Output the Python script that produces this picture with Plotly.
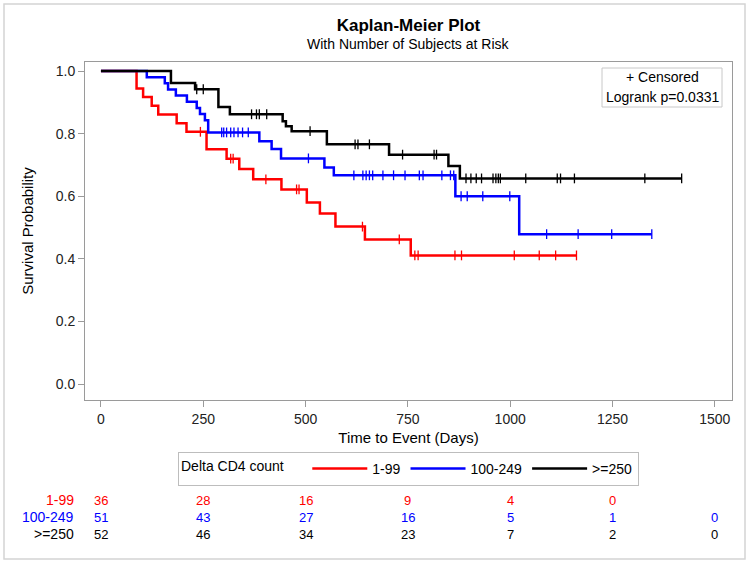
import numpy as np
import plotly.graph_objects as go

# ---------------- data ----------------
groups = ["1-99", "100-249", ">=250"]
colors = ["#FF0000", "#0000FF", "#000000"]

red_times = [87, 103, 124, 140, 185, 209, 258, 307, 338, 372, 441, 503, 535, 573, 645, 757]
red_surv = [0.944, 0.917, 0.889, 0.861, 0.833, 0.806, 0.750, 0.720, 0.687, 0.654,
            0.622, 0.580, 0.545, 0.503, 0.462, 0.411]
red_cens = [243, 317, 323, 403, 478, 484, 639, 729, 767, 775, 865, 881, 1010, 1071, 1111, 1162]

blue_times = [112, 156, 164, 183, 210, 234, 242, 254, 262, 387, 417, 440, 546, 569, 866, 1022]
blue_surv = [0.980, 0.961, 0.941, 0.922, 0.902, 0.882, 0.863, 0.843, 0.804, 0.776,
             0.751, 0.721, 0.692, 0.667, 0.600, 0.479]
blue_cens = [295, 300, 307, 317, 325, 335, 346, 360, 507, 618, 640, 648, 656, 664, 689,
             715, 743, 778, 787, 833, 854, 862, 880, 895, 933, 999, 1089, 1166, 1248, 1346]

black_times = [171, 230, 287, 315, 444, 452, 466, 552, 704, 849, 877]
black_surv = [0.962, 0.942, 0.885, 0.862, 0.840, 0.824, 0.808, 0.766, 0.733, 0.697, 0.657]
black_cens = [234, 250, 368, 380, 387, 405, 511, 621, 628, 656, 737, 814, 820, 892, 904,
              917, 930, 958, 965, 971, 976, 1038, 1115, 1123, 1157, 1329, 1419]

risk_days = [0, 250, 500, 750, 1000, 1250, 1500]
risk_red = [36, 28, 16, 9, 4, 0]
risk_blue = [51, 43, 27, 16, 5, 1, 0]
risk_black = [52, 46, 34, 23, 7, 2, 0]

x_ticks = [0, 250, 500, 750, 1000, 1250, 1500]
y_ticks = [0.0, 0.2, 0.4, 0.6, 0.8, 1.0]

# ---------------- figure ----------------
FONT = "Liberation Sans, Arial, sans-serif"
W, H = 750, 564
L, R, T, B = 85, 18, 62, 164
PW, PH = W - L - R, H - T - B


def px_x(p):
    return (p - L) / PW


def px_y(p):
    return (H - B - p) / PH


fig = go.Figure()

series = [
    (red_times, red_surv, red_cens),
    (blue_times, blue_surv, blue_cens),
    (black_times, black_surv, black_cens),
]

for (times, surv, cens), name, col in zip(series, groups, colors):
    end = max(max(cens), max(times))
    xs = [0] + list(times) + [end]
    ys = [1.0] + list(surv) + [surv[-1]]
    fig.add_trace(go.Scatter(x=xs, y=ys, mode="lines", line=dict(color=col, width=2.5, shape="hv"),
                             name=name, showlegend=True, hoverinfo="skip"))
    levels = np.array([1.0] + list(surv))
    idx = np.searchsorted(np.array(times), np.array(cens), side="right")
    fig.add_trace(go.Scatter(x=cens, y=levels[idx], mode="markers",
                             marker=dict(symbol="line-ns-open", size=7, color=col,
                                         line=dict(width=1.3, color=col)),
                             showlegend=False, hoverinfo="skip"))

annotations = []
# subtitle
annotations.append(dict(text="With Number of Subjects at Risk", xref="paper", yref="paper",
                        x=0.5, y=px_y(44), xanchor="center", yanchor="middle", showarrow=False,
                        font=dict(size=14, color="#000000", family=FONT)))
# censored / logrank box text
annotations.append(dict(text="+ Censored", xref="paper", yref="paper", x=px_x(662), y=px_y(77),
                        xanchor="center", yanchor="middle", showarrow=False,
                        font=dict(size=14, color="#000000", family=FONT)))
annotations.append(dict(text="Logrank p=0.0331", xref="paper", yref="paper", x=px_x(662), y=px_y(97),
                        xanchor="center", yanchor="middle", showarrow=False,
                        font=dict(size=14, color="#000000", family=FONT)))

# at-risk table
row_y = [500, 517, 534]
for counts, name, col, ry in zip([risk_red, risk_blue, risk_black], groups, colors, row_y):
    annotations.append(dict(text=name, xref="paper", yref="paper", x=px_x(76), y=px_y(ry),
                            xanchor="right", yanchor="middle", showarrow=False,
                            font=dict(size=14, color=col, family=FONT)))
    for d, c in zip(risk_days, counts):
        annotations.append(dict(text=str(c), xref="x", yref="paper", x=d, y=px_y(ry),
                                xanchor="center", yanchor="middle", showarrow=False,
                                font=dict(size=13, color=col, family=FONT)))

shapes = [
    dict(type="rect", xref="paper", yref="paper", x0=px_x(602), x1=px_x(722), y0=px_y(107), y1=px_y(68),
         line=dict(color="#c8c8c8", width=1), fillcolor="rgba(0,0,0,0)"),
    dict(type="rect", xref="paper", yref="paper", x0=px_x(4), x1=px_x(745), y0=px_y(559), y1=px_y(4),
         line=dict(color="#d4d4d4", width=1.5), fillcolor="rgba(0,0,0,0)", layer="below"),
]

fig.update_layout(
    width=W, height=H,
    margin=dict(l=L, r=R, t=T, b=B, autoexpand=False),
    paper_bgcolor="white", plot_bgcolor="white",
    font=dict(family=FONT, size=14, color="#000000"),
    title=dict(text="<b>Kaplan-Meier Plot</b>", x=0.5, xref="paper", xanchor="center",
               y=1 - 25 / H, yref="container", yanchor="middle",
               font=dict(size=17, family=FONT, color="#000000")),
    xaxis=dict(range=[-39, 1542], tickvals=x_ticks, ticktext=[str(v) for v in x_ticks],
               showgrid=False, zeroline=False, showline=True, mirror=True, linecolor="#9a9a9a",
               linewidth=1, ticks="outside", ticklen=6, tickcolor="#9a9a9a",
               tickfont=dict(size=14, color="#222222"),
               title=dict(text="Time to Event (Days)", standoff=6, font=dict(size=15))),
    yaxis=dict(range=[-0.051, 1.029], tickvals=y_ticks, tickformat=".1f",
               showgrid=False, zeroline=False, showline=True, mirror=True, linecolor="#9a9a9a",
               linewidth=1, ticks="outside", ticklen=6, tickcolor="#9a9a9a",
               tickfont=dict(size=14, color="#222222"),
               title=dict(text="Survival Probability", standoff=18, font=dict(size=15))),
    legend=dict(orientation="h", x=0.5, xanchor="center", y=px_y(469), yanchor="middle",
                title=dict(text="Delta CD4 count    ", side="left", font=dict(size=14, family=FONT)),
                bordercolor="#bdbdbd", borderwidth=1, bgcolor="white",
                font=dict(size=14, family=FONT), itemwidth=55, tracegroupgap=0,
                valign="middle"),
    annotations=annotations,
    shapes=shapes,
    showlegend=True,
)

fig.write_html("out.html", config={"displayModeBar": False},
               post_script="document.body.style.margin='0';document.body.style.padding='0';")
